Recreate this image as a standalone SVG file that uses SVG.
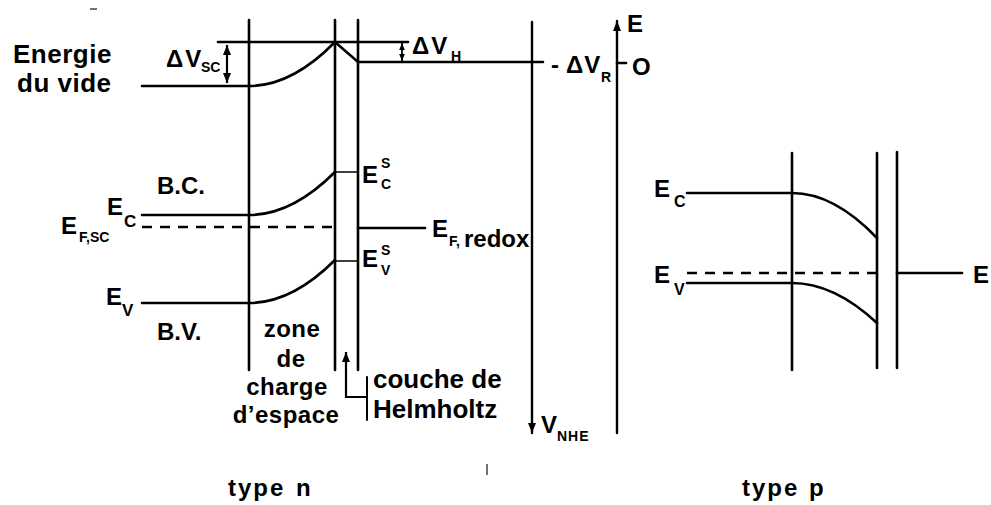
<svg xmlns="http://www.w3.org/2000/svg" width="991" height="505" viewBox="0 0 991 505">
<style>
.ln{fill:none;stroke:#000;stroke-width:2.6;stroke-linecap:round}
.th{fill:none;stroke:#000;stroke-width:1.6}
.ds{fill:none;stroke:#000;stroke-width:2.4;stroke-dasharray:10 8}
text{font-family:"Liberation Sans",Arial,Helvetica,sans-serif;font-weight:bold;fill:#000}
.m{font-size:24px}
.b{font-size:26px}
.z{font-size:24px;letter-spacing:0.5px}
.s{font-size:14px}
.s2{font-size:17px}
.s3{font-size:16px}
.mid{text-anchor:middle}
</style>
<defs>
<marker id="ah" viewBox="0 0 10 10" refX="10" refY="5" markerWidth="10" markerHeight="10" markerUnits="userSpaceOnUse" orient="auto-start-reverse"><path d="M0,1 L10,5 L0,9 z" fill="#000"/></marker>
<marker id="ahs" viewBox="0 0 10 10" refX="10" refY="5" markerWidth="7" markerHeight="7" markerUnits="userSpaceOnUse" orient="auto-start-reverse"><path d="M0,1 L10,5 L0,9 z" fill="#000"/></marker>
</defs>
<rect width="991" height="505" fill="#fff"/>

<g id="n-type">
  <g id="n-boundaries">
    <path class="ln" d="M249,20 V370 M335,20 V370 M358,20 V370"/>
  </g>
  <g id="n-vacuum">
    <path class="ln" d="M142,86 H249 Q292,86 335,42 L358,62 H543"/>
    <path class="ln" d="M218,42 H408"/>
  </g>
  <g id="n-bands">
    <path class="ln" d="M142,215 H249 Q292,215 335,172"/>
    <path class="ln" d="M142,303 H249 Q292,303 335,260"/>
    <path class="ds" d="M142,227 H332"/>
    <path class="th" d="M335,172 H358 M335,261 H358"/>
    <path class="ln" d="M358,228 H425"/>
  </g>
  <g id="connectors">
    <path class="th" style="stroke-width:2.2" d="M227,45 V83" marker-start="url(#ah)" marker-end="url(#ah)"/>
    <path class="th" style="stroke-width:1.8" d="M402,43 V61" marker-start="url(#ahs)" marker-end="url(#ahs)"/>
    <path class="th" style="stroke-width:2.2" d="M367,397 H346 V352" marker-end="url(#ah)"/>
    <path class="ln" style="stroke-width:2" d="M367,377 V420"/>
  </g>
</g>

<g id="axes">
  <path class="ln" style="stroke-width:2.4" d="M532,22 V433" marker-end="url(#ah)"/>
  <path class="ln" style="stroke-width:2.4" d="M617,433 V21" marker-end="url(#ah)"/>
  <path class="ln" d="M617,63 H626"/>
</g>

<g id="p-type">
  <path class="ln" d="M792,153 V370 M877,153 V368 M897,152 V368"/>
  <path class="ln" d="M687,193 H792 Q834,193 877,238"/>
  <path class="ln" d="M687,283 H792 Q834,283 877,323"/>
  <path class="ds" d="M687,273 H877"/>
  <path class="ln" d="M897,273 H962"/>
</g>

<g id="labels">
  <text class="b" x="13" y="63" letter-spacing="0.5">Energie</text>
  <text class="b" x="17" y="92" letter-spacing="0.5">du vide</text>
  <text class="m" x="166" y="67" letter-spacing="2">ΔV</text>
  <text class="s" x="201" y="72">SC</text>
  <text class="m" x="412" y="54" letter-spacing="2">ΔV</text>
  <text class="s" x="451" y="61">H</text>
  <text class="m" x="551" y="73">-</text>
  <text class="m" x="566" y="73" letter-spacing="1">ΔV</text>
  <text class="s" x="601" y="82">R</text>
  <text class="m" x="632" y="75">O</text>
  <text class="m" x="627" y="32">E</text>

  <text class="m" x="157" y="194">B.C.</text>
  <text class="m" x="107" y="215">E</text>
  <text class="s2" x="124" y="227">C</text>
  <text class="m" x="61" y="234">E</text>
  <text class="s" x="79" y="242">F,SC</text>
  <text class="m" x="106" y="305">E</text>
  <text class="s2" x="122" y="316">V</text>
  <text class="m" x="157" y="340">B.V.</text>

  <text class="m" x="362" y="183">E</text>
  <text class="s" x="381" y="168">S</text>
  <text class="s" x="381" y="189">C</text>
  <text class="m" x="362" y="267">E</text>
  <text class="s" x="381" y="255">S</text>
  <text class="s" x="381" y="275">V</text>
  <text class="m" x="432" y="237">E</text>
  <text class="s" x="449" y="246">F,</text>
  <text class="m" x="464" y="247">redox</text>

  <text class="z mid" x="292" y="337">zone</text>
  <text class="z mid" x="291" y="367">de</text>
  <text class="z mid" x="287" y="395">charge</text>
  <text class="z mid" x="286" y="423">d’espace</text>
  <text class="b" x="373" y="388">couche de</text>
  <text class="b" x="373" y="418">Helmholtz</text>
  <text class="m" x="541" y="433">V</text>
  <text class="s" x="557" y="441" letter-spacing="1">NHE</text>

  <text class="m" x="654" y="197">E</text>
  <text class="s3" x="674" y="207">C</text>
  <text class="m" x="654" y="283">E</text>
  <text class="s3" x="674" y="295">V</text>
  <text class="m" x="973" y="283">E</text>

  <text class="m" x="228" y="496" letter-spacing="2">type</text>
  <text class="m" x="296" y="496">n</text>
  <text class="m" x="742" y="496" letter-spacing="2">type</text>
  <text class="m" x="809" y="496">p</text>
</g>

<g id="scan-marks" stroke="#444" stroke-width="1.5">
  <path d="M90,9 H97"/>
  <path d="M487,464 V475"/>
</g>
</svg>
